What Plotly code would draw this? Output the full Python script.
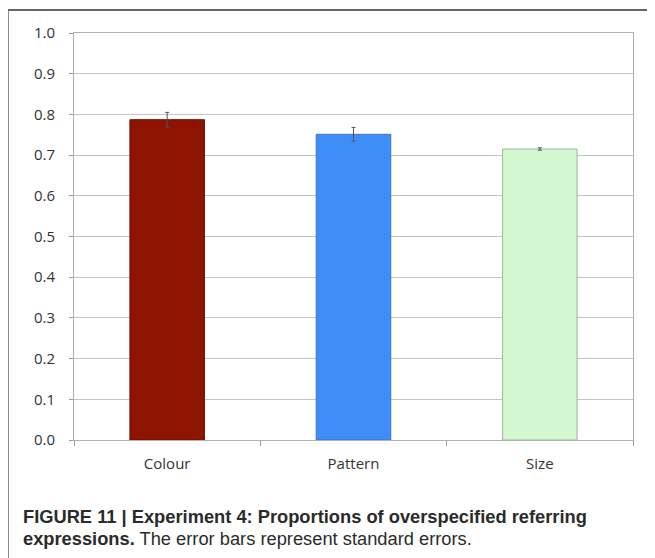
import plotly.graph_objects as go

categories = ["Colour", "Pattern", "Size"]
values = [0.787, 0.751, 0.715]
errors = [0.018, 0.017, 0.003]
fill_colors = ["#8E1300", "#3F8EF7", "#D3F8D0"]
line_colors = ["#6A1000", "#3A74C8", "#9FB39D"]
y_ticks = [0.0, 0.1, 0.2, 0.3, 0.4, 0.5, 0.6, 0.7, 0.8, 0.9, 1.0]

# the page body adds an 8px margin; work in page pixels and subtract it
OFF = 8
W, H = 655 - OFF, 558 - OFF
L, R, T, B = 74 - OFF, 633 - OFF, 33 - OFF, 440 - OFF
pw, ph = R - L, B - T

fig = go.Figure()
fig.add_trace(go.Bar(
    x=categories, y=values, width=0.4,
    marker=dict(color=fill_colors, line=dict(color=line_colors, width=1)),
    error_y=dict(type="data", array=errors, visible=True, color="#555555", thickness=1, width=2),
    showlegend=False,
))

def px_x(x):
    return (x - OFF - L) / pw

def px_y(y):
    return (B - (y - OFF)) / ph

tick_font = dict(family="Open Sans", size=15, color="#333333")

fig.update_layout(
    width=W, height=H,
    margin=dict(l=L, r=W - R, t=T, b=H - B, pad=0),
    paper_bgcolor="white", plot_bgcolor="white",
    font=dict(family="Open Sans", size=15, color="#333333"),
    xaxis=dict(
        type="category", tickson="boundaries", ticks="outside", ticklen=5,
        tickcolor="#9a9a9a", showline=True, linecolor="#b0b0b0", mirror=True,
        showgrid=False, tickfont=tick_font, ticklabelstandoff=10,
        range=[-0.5, 2.5],
    ),
    yaxis=dict(
        range=[0, 1.0], tickvals=y_ticks, tickformat=".1f", ticks="outside", ticklen=4,
        tickcolor="#9a9a9a", showline=True, linecolor="#b0b0b0", mirror=True,
        gridcolor="#c4c4c4", gridwidth=1, zeroline=False,
        tickfont=tick_font, ticklabelstandoff=11,
    ),
    shapes=[
        dict(type="line", xref="paper", yref="paper", x0=px_x(8), x1=px_x(655), y0=px_y(10), y1=px_y(10),
             line=dict(color="#333333", width=1.5)),
        dict(type="line", xref="paper", yref="paper", x0=px_x(8), x1=px_x(8), y0=px_y(10), y1=px_y(558),
             line=dict(color="#666666", width=1.5)),
    ],
    annotations=[
        dict(xref="paper", yref="paper", x=px_x(21), y=px_y(516), xanchor="left", yanchor="middle",
             showarrow=False, align="left",
             text="<b>FIGURE 11 | Experiment 4: Proportions of overspecified referring</b>",
             font=dict(family="Liberation Sans", size=18.3, color="#2b2b2b")),
        dict(xref="paper", yref="paper", x=px_x(21), y=px_y(538), xanchor="left", yanchor="middle",
             showarrow=False, align="left",
             text="<b>expressions.</b> The error bars represent standard errors.",
             font=dict(family="Liberation Sans", size=18.3, color="#2b2b2b")),
    ],
)

fig.write_html("out.html")
